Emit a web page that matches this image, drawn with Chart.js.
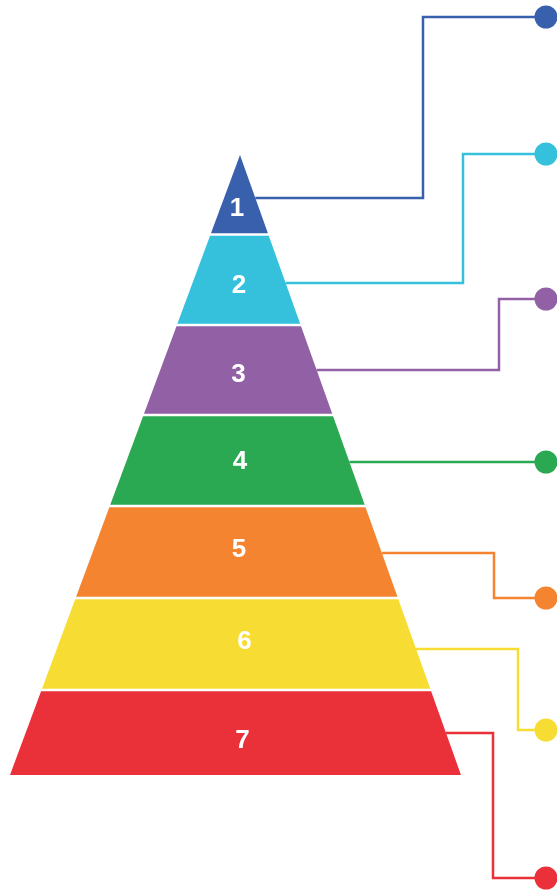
<!DOCTYPE html>
<html>
<head>
<meta charset="utf-8">
<script src="https://cdn.jsdelivr.net/npm/chart.js@4.4.1/dist/chart.umd.min.js"></script>
<style>
html,body{margin:0;padding:0;background:#fff;}
#wrap{width:557px;height:890px;}
canvas{display:block;}
</style>
</head>
<body>
<div id="wrap"><canvas id="c" width="557" height="890"></canvas></div>
<script>
// ---- data ----
const tiers = ['1', '2', '3', '4', '5', '6', '7'];
const tierColors = ['#3860ad', '#35c1dc', '#9260a4', '#2aa952', '#f58430', '#f7dd33', '#ea3038'];
// tier boundaries (vertical levels, top of tier 1 = apex, last = base)
const tierBounds = [155, 234.5, 325, 415, 506, 598, 690, 775];
const apexX = 240;
const baseLeftX = 10;
const baseRightX = 461;
// label levels
const labelLevels = [207, 284, 372.5, 459.5, 548, 639.5, 739];
const labelShift = [-2.6, -0.1, 0.1, 2.2, 1.9, 8, 6.7];
// callouts
const calloutLevels = [198, 283, 370, 462, 553, 649, 733];
const calloutElbowX = [423, 463, 499, null, 494, 518, 493];
const markerLevels = [17, 154, 299, 462, 598, 730, 878];
const markerX = 546;

const W = 557, H = 890;
const MARKER_R = 11.5;

// ---- geometry helpers (value space) ----
const leftAt = y => apexX + (baseLeftX - apexX) * (y - tierBounds[0]) / (tierBounds[7] - tierBounds[0]);
const rightAt = y => apexX + (baseRightX - apexX) * (y - tierBounds[0]) / (tierBounds[7] - tierBounds[0]);

const datasets = [];
const GAP = 1.2;
tiers.forEach((t, i) => {
  const top = tierBounds[i] + (i === 0 ? 0 : GAP);
  const bot = tierBounds[i + 1] - (i === tiers.length - 1 ? 0 : GAP);
  datasets.push({
    label: 'tier' + t,
    kind: 'tier',
    data: [
      {x: leftAt(top), y: top}, {x: rightAt(top), y: top},
      {x: rightAt(bot), y: bot}, {x: leftAt(bot), y: bot}
    ],
    backgroundColor: tierColors[i],
    pointRadius: 0,
    showLine: false,
    clip: false
  });
});
tiers.forEach((t, i) => {
  const y0 = calloutLevels[i];
  const pts = [{x: rightAt(y0), y: y0}];
  if (calloutElbowX[i] !== null) {
    pts.push({x: calloutElbowX[i], y: y0});
    pts.push({x: calloutElbowX[i], y: markerLevels[i]});
  }
  pts.push({x: markerX, y: markerLevels[i]});
  datasets.push({
    label: 'callout' + t,
    kind: 'callout',
    data: pts,
    showLine: true,
    borderColor: tierColors[i],
    borderWidth: 2.5,
    pointRadius: 0,
    fill: false,
    tension: 0,
    clip: false
  });
});
datasets.push({
  label: 'markers',
  kind: 'markers',
  data: markerLevels.map(y => ({x: markerX, y})),
  pointRadius: MARKER_R,
  pointBackgroundColor: tierColors,
  pointBorderWidth: 0,
  showLine: false,
  clip: false
});

const tierPlugin = {
  id: 'tierPlugin',
  beforeDatasetsDraw(chart) {
    const ctx = chart.ctx;
    chart.data.datasets.forEach((ds, di) => {
      if (ds.kind !== 'tier') return;
      const pts = chart.getDatasetMeta(di).data;
      ctx.save();
      ctx.beginPath();
      pts.forEach((p, k) => k ? ctx.lineTo(p.x, p.y) : ctx.moveTo(p.x, p.y));
      ctx.closePath();
      ctx.fillStyle = ds.backgroundColor;
      ctx.fill();
      ctx.restore();
    });
  },
  afterDatasetsDraw(chart) {
    const ctx = chart.ctx;
    const xs = chart.scales.x, ys = chart.scales.y;
    ctx.save();
    ctx.fillStyle = '#ffffff';
    ctx.font = 'bold 26px "Liberation Sans", Arial, sans-serif';
    ctx.textAlign = 'center';
    ctx.textBaseline = 'alphabetic';
    tiers.forEach((t, i) => {
      const y = labelLevels[i];
      const x = (leftAt(y) + rightAt(y)) / 2 + labelShift[i];
      ctx.fillText(t, xs.getPixelForValue(x), ys.getPixelForValue(y) + 9.3);
    });
    ctx.restore();
  }
};

new Chart(document.getElementById('c'), {
  type: 'scatter',
  data: {datasets},
  options: {
    responsive: false,
    animation: false,
    devicePixelRatio: 1,
    layout: {padding: 0, autoPadding: false},
    scales: {
      x: {type: 'linear', min: 0, max: W, display: false},
      y: {type: 'linear', min: 0, max: H, reverse: true, display: false}
    },
    plugins: {legend: {display: false}, tooltip: {enabled: false}},
    elements: {line: {borderCapStyle: 'butt', borderJoinStyle: 'miter'}}
  },
  plugins: [tierPlugin]
});
</script>
</body>
</html>
